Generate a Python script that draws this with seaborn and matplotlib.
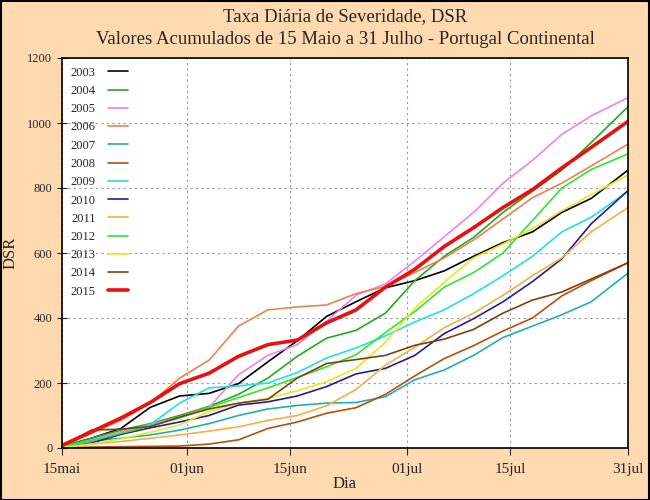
""" Cumulative DSR 15 May - 31 July, mainland Portugal. """

import matplotlib as mpl
import matplotlib.pyplot as plt
import pandas as pd
import seaborn as sns

# days since 15 May
days = [0, 4, 8, 12, 16, 20, 24, 28, 32, 36, 40, 44, 48, 52, 56, 60, 64, 68, 72, 77]

dsr_2003 = [5, 30, 60, 125, 160, 168, 198, 265, 330, 405, 450, 493, 515, 545, 590, 632, 665, 725, 768, 855]
dsr_2004 = [5, 30, 55, 75, 100, 128, 165, 215, 282, 338, 362, 415, 515, 590, 648, 725, 790, 855, 940, 1050]
dsr_2005 = [3, 25, 50, 72, 95, 125, 225, 285, 318, 390, 470, 505, 575, 650, 725, 815, 885, 965, 1022, 1078]
dsr_2006 = [5, 45, 85, 138, 215, 270, 375, 425, 434, 440, 475, 497, 540, 585, 640, 705, 770, 815, 868, 935]
dsr_2007 = [2, 22, 30, 40, 55, 75, 100, 120, 131, 138, 140, 158, 210, 240, 285, 340, 375, 410, 450, 538]
dsr_2008 = [0, 3, 4, 5, 6, 12, 25, 60, 80, 107, 124, 165, 222, 275, 315, 360, 400, 468, 515, 570]
dsr_2009 = [3, 20, 42, 72, 138, 185, 191, 200, 232, 277, 308, 345, 388, 425, 475, 530, 590, 665, 710, 790]
dsr_2010 = [0, 15, 42, 62, 80, 100, 132, 142, 160, 189, 228, 245, 285, 352, 398, 450, 512, 582, 690, 792]
dsr_2011 = [2, 12, 20, 30, 40, 52, 65, 85, 100, 130, 180, 255, 310, 370, 415, 470, 530, 585, 665, 740]
dsr_2012 = [5, 22, 45, 68, 92, 125, 155, 185, 217, 250, 287, 355, 420, 495, 540, 600, 700, 800, 857, 905]
dsr_2013 = [2, 12, 28, 48, 71, 112, 138, 152, 176, 204, 245, 325, 430, 510, 585, 628, 675, 730, 780, 840]
dsr_2014 = [5, 55, 58, 66, 95, 120, 138, 150, 215, 260, 272, 285, 316, 335, 365, 415, 455, 480, 520, 570]
dsr_2015 = [8, 50, 92, 140, 198, 230, 282, 318, 332, 385, 425, 495, 550, 620, 678, 740, 795, 862, 925, 1005]

years = ["2003", "2004", "2005", "2006", "2007", "2008", "2009",
         "2010", "2011", "2012", "2013", "2014", "2015"]
colors = ["#000000", "#22AA22", "#EE82EE", "#F08050", "#20B2AA", "#B5500F", "#22E0E8",
          "#1E1EA0", "#F5B041", "#2EE82E", "#E8E820", "#804010", "#E81010"]

tick_days = [0, 17, 31, 47, 61, 77]
tick_labels = ["15mai", "01jun", "15jun", "01jul", "15jul", "31jul"]


def main():
    sns.set_style("ticks")
    plt.rcParams["font.family"] = ["Liberation Serif", "DejaVu Serif"]
    bg = "#FFDAB0"

    series = [dsr_2003, dsr_2004, dsr_2005, dsr_2006, dsr_2007, dsr_2008, dsr_2009,
              dsr_2010, dsr_2011, dsr_2012, dsr_2013, dsr_2014, dsr_2015]
    df = pd.DataFrame({y: s for y, s in zip(years, series)})
    df["day"] = days

    fig = plt.figure(figsize=(6.5, 5), dpi=100, facecolor=bg)
    ax = fig.add_axes([62 / 650, 1 - 448 / 500, 566 / 650, 390 / 500])
    ax.set_facecolor("white")

    for year, col in zip(years, colors):
        lw = 2.6 if year == "2015" else 1.2
        sns.lineplot(data=df, x="day", y=year, color=col, linewidth=lw, label=year, ax=ax)

    ax.set_xlim(0, 77)
    ax.set_ylim(0, 1200)
    ax.set_xticks(tick_days)
    ax.set_xticklabels(tick_labels)
    ax.set_yticks(range(0, 1201, 200))
    ax.grid(True, linestyle=(0, (2, 3)), color="#999999", linewidth=0.8)
    ax.tick_params(axis="x", direction="out", length=5, labelsize=11, pad=6)
    ax.tick_params(axis="y", direction="inout", length=7, labelsize=9)
    for s in ax.spines.values():
        s.set_color("black")
        s.set_linewidth(1.2)

    ax.set_xlabel("Dia", fontsize=12, labelpad=0)
    ax.set_ylabel("DSR", fontsize=12, labelpad=6)

    # two title lines, centred over the plot area
    xc = 345 / 650
    fig.text(xc, 1 - 17 / 500, "Taxa Diária de Severidade, DSR",
             ha="center", va="center", fontsize=13.5)
    fig.text(xc, 1 - 40 / 500, "Valores Acumulados de 15 Maio a 31 Julho - Portugal Continental",
             ha="center", va="center", fontsize=13.5)

    ax.legend(loc="upper left", frameon=False, markerfirst=False, fontsize=9,
              handlelength=1.6, handletextpad=1.0, labelspacing=0.5,
              borderaxespad=0.3)

    fig.patches.append(mpl.patches.Rectangle((0.001, 0.001), 0.997, 0.997, transform=fig.transFigure,
                                             fill=False, edgecolor="black", linewidth=1.5))
    fig.savefig("out.png", dpi=100, facecolor=bg)


if __name__ == "__main__":
    main()
